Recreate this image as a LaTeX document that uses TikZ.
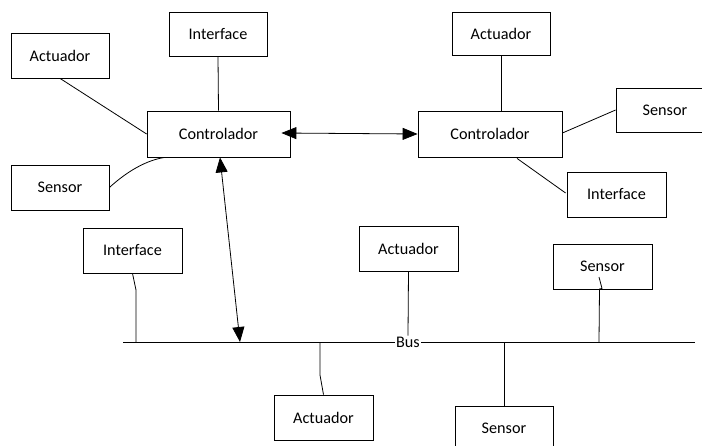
\documentclass[tikz,border=0pt]{standalone}
\usepackage{fontspec}
\setmainfont{Carlito}
\usetikzlibrary{calc,arrows.meta}
\begin{document}
\begin{tikzpicture}[x=1pt,y=-1pt,
  box/.style={draw,line width=0.8pt,rectangle,inner sep=0pt,font=\fontsize{16.2}{19}\selectfont},
  conn/.style={draw,line width=0.8pt},
  arr/.style={conn,{Triangle[length=15pt,width=12pt]}-{Triangle[length=15pt,width=12pt]}}]
\useasboundingbox (0,0) rectangle (702,445);
\fill[white] (0,0) rectangle (702,445);
% boxes
\node[box,minimum width=98pt,minimum height=45pt] (actTL) at (60,55.5) {Actuador};
\node[box,minimum width=98pt,minimum height=44pt] (intTop) at (218,34) {Interface};
\node[box,minimum width=143pt,minimum height=46pt] (ctrlL) at (218.5,134) {Controlador};
\node[box,minimum width=98pt,minimum height=45pt] (senL) at (60,187.5) {Sensor};
\node[box,minimum width=144pt,minimum height=46pt] (ctrlR) at (490,134) {Controlador};
\node[box,minimum width=98pt,minimum height=43pt] (actTR) at (501,33.5) {Actuador};
\node[box,minimum width=98pt,minimum height=44pt] (senR) at (665,110) {Sensor};
\node[box,minimum width=99pt,minimum height=45pt] (intR) at (616.5,194.5) {Interface};
\node[box,minimum width=99pt,minimum height=45pt] (intBL) at (132.5,250.5) {Interface};
\node[box,minimum width=99pt,minimum height=45pt] (actMid) at (408.5,248.5) {Actuador};
\node[box,minimum width=99pt,minimum height=45pt] (actBot) at (323.5,417.5) {Actuador};
\node[box,minimum width=98pt,minimum height=45pt] (senBot) at (504,428.5) {Sensor};
\node[box,minimum width=99pt,minimum height=45pt] (senRmid) at (602.5,266.5) {Sensor};
% bus
\coordinate (busL) at (123,342);
\coordinate (busR) at (695,342);
\draw[conn] (busL) -- (busR);
\node[fill=white,inner sep=1pt,font=\fontsize{16.2}{19}\selectfont] (bus) at (408,342) {Bus};
% taps on bus
\coordinate (tapArrow) at (240,342);
\coordinate (tapInt) at (136,342);
\coordinate (tapAct) at (320,342);
\coordinate (tapSenB) at (504,342);
\coordinate (tapSenR) at (599,342);
% left controller connectors
\draw[conn] (actTL.south) -- (ctrlL.west);
\draw[conn] (intTop.south) -- (ctrlL.north);
\draw[conn] (senL.east) .. controls (122,176) and (142,161) .. ($(ctrlL.south west)+(18,0)$);
% right controller connectors
\draw[conn] (actTR.south) -- (actTR.south |- ctrlR.north);
\draw[conn] ($(ctrlR.east)+(0,-1)$) -- (senR.west);
\draw[conn] ($(ctrlR.south)+(27,1)$) -- ($(intR.west)+(-1,-1.5)$);
% arrows
\draw[arr] ($(ctrlL.east)+(-9,-1)$) -- (ctrlR.west);
\draw[arr] ($(ctrlL.south)+(1.5,0)$) -- (tapArrow);
% bus devices
\draw[conn] (intBL.south) -- (136,290) -- (tapInt);
\draw[conn] (actMid.south) -- (bus.north);
\draw[conn] (actBot.north) -- (320,375) -- (tapAct);
\draw[conn] (senBot.north) -- (tapSenB);
\draw[conn] (tapSenR) -- (599.5,289) -- (602,288.5) -- (599,277);
\end{tikzpicture}
\end{document}
